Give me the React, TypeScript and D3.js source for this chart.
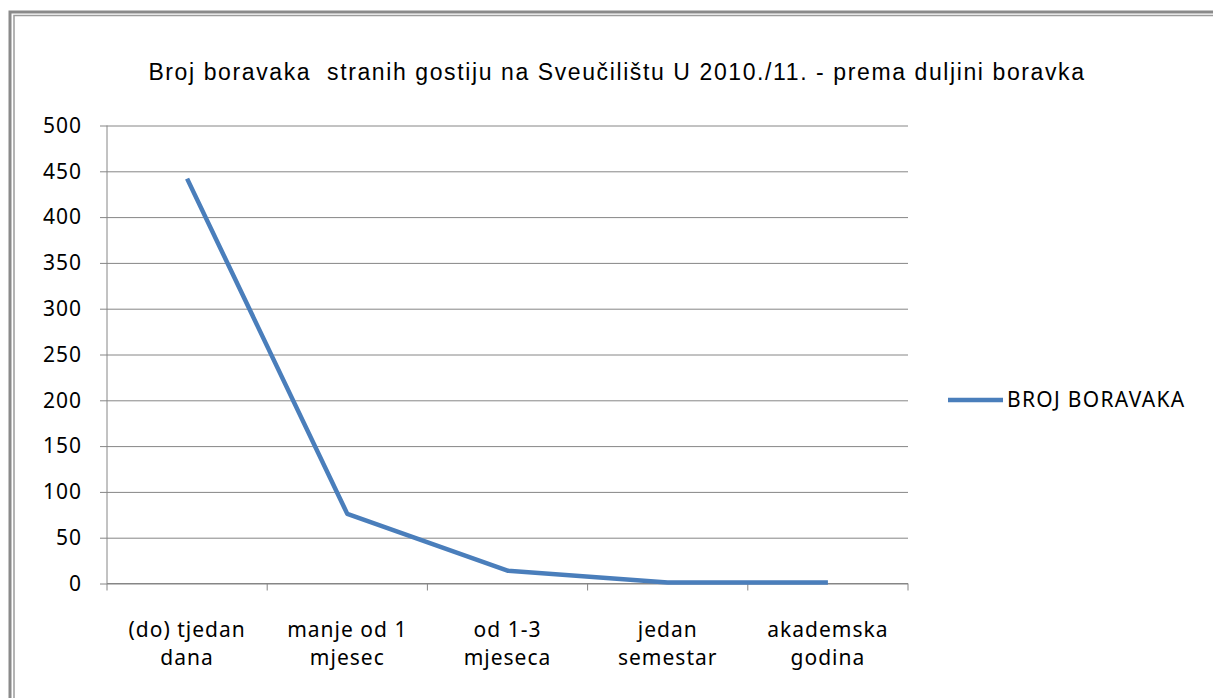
import React, { useEffect, useRef } from 'react';
import * as d3 from 'd3';

// stays by length of visit
const categories = ['(do) tjedan|dana', 'manje od 1|mjesec', 'od 1-3|mjeseca', 'jedan|semestar', 'akademska|godina'];
const stays = [442, 76, 14, 1, 1];
const yTicks = [0, 50, 100, 150, 200, 250, 300, 350, 400, 450, 500];
const title = 'Broj boravaka  stranih gostiju na Sveučilištu U 2010./11. - prema duljini boravka';
const seriesName = 'BROJ BORAVAKA';

const App = () => {
    const svgRef = useRef<SVGSVGElement | null>(null);

    useEffect(() => {
        const width = 1213;
        const height = 698;
        const left = 107;
        const right = 908;
        const top = 125.5;
        const bottom = 583.5;
        const lineColor = '#4a7ebb';
        const gridColor = '#868686';
        const labelFont = '"Noto Sans", "Open Sans", sans-serif';

        const svg = d3.select(svgRef.current);
        svg.selectAll('*').remove();
        svg.attr('width', width).attr('height', height);

        svg.append('rect').attr('width', width).attr('height', height).attr('fill', '#fff');

        // double frame around the chart, cut off at right and bottom
        svg.append('rect')
            .attr('x', 10).attr('y', 12)
            .attr('width', width + 20).attr('height', height + 20)
            .attr('fill', 'none').attr('stroke', '#8a8a8a').attr('stroke-width', 3);
        svg.append('rect')
            .attr('x', 14).attr('y', 15.5)
            .attr('width', width + 20).attr('height', height + 20)
            .attr('fill', 'none').attr('stroke', '#9c9c9c').attr('stroke-width', 1.5);

        svg.append('text')
            .attr('x', 617).attr('y', 80)
            .attr('text-anchor', 'middle')
            .style('white-space', 'pre')
            .style('font-family', '"Liberation Sans", Arial, sans-serif')
            .style('font-size', '23px')
            .style('letter-spacing', '1.6px')
            .style('fill', '#000')
            .text(title);

        const x = d3.scaleBand().domain(categories).range([left, right]).padding(0);
        const y = d3.scaleLinear().domain([0, 500]).range([bottom, top]);

        // gridlines + y axis
        const yAxis = svg.append('g')
            .attr('transform', `translate(${left},0)`)
            .call(d3.axisLeft(y).tickValues(yTicks).tickSize(7).tickPadding(18).tickFormat(d => String(d)));
        yAxis.select('.domain').remove();
        yAxis.selectAll('line').attr('stroke', gridColor).attr('x2', right - left).attr('x1', -7);
        yAxis.selectAll('text')
            .style('font-family', labelFont)
            .style('font-size', '21px')
            .style('letter-spacing', '1px')
            .style('fill', '#000');

        svg.append('line')
            .attr('x1', left).attr('x2', left)
            .attr('y1', top).attr('y2', bottom)
            .attr('stroke', gridColor);

        // x axis with ticks between categories
        const xAxis = svg.append('g').attr('transform', `translate(0,${bottom})`);
        xAxis.append('line')
            .attr('x1', left).attr('x2', right)
            .attr('stroke', gridColor);
        const edges = categories.map(c => x(c) as number).concat([right]);
        xAxis.selectAll('line.tick')
            .data(edges)
            .join('line')
            .attr('class', 'tick')
            .attr('x1', d => d).attr('x2', d => d)
            .attr('y1', 0).attr('y2', 7)
            .attr('stroke', gridColor);

        const labels = xAxis.selectAll('text.cat')
            .data(categories)
            .join('text')
            .attr('class', 'cat')
            .attr('text-anchor', 'middle')
            .style('font-family', labelFont)
            .style('font-size', '21px')
            .style('letter-spacing', '1px')
            .style('fill', '#000');
        labels.each(function (d) {
            const cx = (x(d) as number) + x.bandwidth() / 2;
            d3.select(this).selectAll('tspan')
                .data(d.split('|'))
                .join('tspan')
                .attr('x', cx)
                .attr('y', (_, i) => 53 + i * 28)
                .text(t => t);
        });

        const line = d3.line<number>()
            .x((_, i) => (x(categories[i]) as number) + x.bandwidth() / 2)
            .y(d => y(d));

        svg.append('path')
            .datum(stays)
            .attr('d', line)
            .attr('fill', 'none')
            .attr('stroke', lineColor)
            .attr('stroke-width', 4.5)
            .attr('stroke-linejoin', 'round');

        // legend
        svg.append('line')
            .attr('x1', 948).attr('x2', 1003)
            .attr('y1', 400).attr('y2', 400)
            .attr('stroke', lineColor)
            .attr('stroke-width', 4.5);
        svg.append('text')
            .attr('x', 1007).attr('y', 407)
            .style('font-family', labelFont)
            .style('font-size', '21px')
            .style('letter-spacing', '1.3px')
            .style('fill', '#000')
            .text(seriesName);
    }, []);

    return (
        <div style={{ position: 'absolute', top: 0, left: 0 }}>
            <svg ref={svgRef} style={{ display: 'block' }}></svg>
        </div>
    );
};

export default App;
